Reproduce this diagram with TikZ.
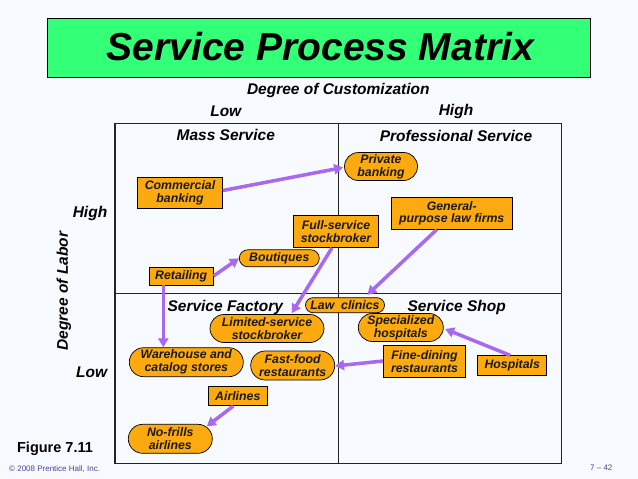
\documentclass[tikz,border=0pt]{standalone}
\usepackage{fontspec}
\setmainfont{Liberation Sans}
\usetikzlibrary{arrows.meta,shapes.misc}
\definecolor{bgc}{RGB}{247,250,254}
\definecolor{titlegreen}{RGB}{51,255,119}
\definecolor{boxorange}{RGB}{252,170,16}
\definecolor{arrowpurple}{RGB}{168,104,240}
\definecolor{framegray}{RGB}{35,35,35}
\definecolor{footblue}{RGB}{70,70,150}
\begin{document}
\begin{tikzpicture}[x=1pt,y=-1pt,
  box/.style={draw=black, line width=0.7pt, fill=boxorange, text=black!90,
    font=\fontsize{12.3}{12.8}\selectfont\bfseries\itshape, align=center, inner sep=0pt},
  rectbox/.style={box, rectangle},
  pill/.style={box, rounded rectangle},
  link/.style={draw=arrowpurple, line width=3.5pt, -{Triangle[length=9pt,width=10pt]}},
  heading/.style={font=\fontsize{15.5}{18}\selectfont\bfseries\itshape, anchor=base, inner sep=0pt, text=black},
  frameline/.style={draw=framegray, line width=1.4pt},
]
\useasboundingbox (0,0) rectangle (638,479);
\fill[bgc] (0,0) rectangle (638,479);

% title
\draw[fill=titlegreen, draw=black, line width=0.8pt] (47.3,18.3) rectangle (590.7,77.3);
\node[font=\fontsize{39}{42}\selectfont\bfseries\itshape, anchor=base, inner sep=0pt] (title) at (320.3,60) {Service Process Matrix};

% axis labels
\node[heading] (cust) at (338.3,94.5) {Degree of Customization};
\node[heading] (lowtop) at (225.8,116.5) {Low};
\node[heading] (hightop) at (456,115) {High};
\node[heading] (highleft) at (90,217) {High};
\node[heading] (lowleft) at (91.7,377.3) {Low};
\node[heading, rotate=90] (labor) at (67.8,291.3) {Degree of Labor};

% matrix frame
\draw[frameline] (115,123.3) rectangle (561.7,463.3);
\draw[frameline] (338.3,123.3) -- (338.3,463.3);
\draw[frameline] (115,293.3) -- (561.7,293.3);

% quadrant labels
\node[heading] (mass) at (225.8,140.5) {Mass Service};
\node[heading] (prof) at (456,141) {Professional Service};
\node[heading] (fact) at (225.3,311) {Service Factory};
\node[heading] (shop) at (456.7,311) {Service Shop};

% boxes
\node[rectbox, minimum width=85pt, minimum height=31pt] (cb) at (180,192.5) {Commercial\\banking};
\node[pill, minimum width=73pt, minimum height=28pt] (pb) at (381,166.5) {Private\\banking};
\node[rectbox, minimum width=121pt, minimum height=32pt] (gp) at (451.7,213.3) {General-\\purpose law firms};
\node[rectbox, minimum width=85pt, minimum height=32pt] (fs) at (336,231.5) {Full-service\\stockbroker};
\node[pill, minimum width=80pt, minimum height=17pt] (bo) at (279.3,258.3) {Boutiques};
\node[rectbox, minimum width=64pt, minimum height=18pt] (re) at (181.2,276) {Retailing};
\node[pill, minimum width=79pt, minimum height=15pt] (lc) at (345,305.2) {Law\ \ clinics};
\node[pill, minimum width=114pt, minimum height=28pt] (ls) at (267,328.5) {Limited-service\\stockbroker};
\node[pill, minimum width=85pt, minimum height=28pt] (sh) at (400.8,327.5) {Specialized\\hospitals};
\node[pill, minimum width=114pt, minimum height=29pt] (wh) at (186.3,362.2) {Warehouse and\\catalog stores};
\node[pill, minimum width=84pt, minimum height=29pt] (ff) at (292.7,365.5) {Fast-food\\restaurants};
\node[rectbox, minimum width=82pt, minimum height=32pt] (fd) at (424.5,361.5) {Fine-dining\\restaurants};
\node[rectbox, minimum width=69pt, minimum height=20pt] (ho) at (512.2,365.7) {Hospitals};
\node[rectbox, minimum width=59pt, minimum height=19pt] (ai) at (237.8,396.2) {Airlines};
\node[pill, minimum width=84pt, minimum height=29pt] (nf) at (170.3,438.8) {No-frills\\airlines};

% arrows
\draw[link] ([yshift=2pt]cb.east) -- ([xshift=-1pt,yshift=-1pt]pb.west);
\draw[link] (re.east) -- (bo.west);
\draw[link] ([xshift=-17.9pt]re.south) -- ([xshift=-17.9pt]re.south |- wh.north);
\draw[link] ([xshift=-4pt]fs.south) -- ([xshift=24.7pt,yshift=1pt]ls.north);
\draw[link] ([xshift=-15pt]gp.south) -- ([xshift=22.3pt,yshift=2.5pt]lc.north);
\draw[link] ([yshift=0.5pt]fd.west) -- ([yshift=-0.5pt]ff.east);
\draw[link] ([xshift=-2pt]ho.north) -- ([xshift=1.5pt,yshift=-1.5pt]sh.east);
\draw[link] ([xshift=-4.5pt]ai.south) -- ([xshift=36.4pt,yshift=-2.4pt]nf.north);

% footer
\node[font=\fontsize{14.5}{16}\selectfont\bfseries, anchor=base, inner sep=0pt] (fig) at (55,452.3) {Figure 7.11};
\node[font=\fontsize{8}{9}\selectfont, anchor=base west, inner sep=0pt, text=footblue] (copy) at (9,471) {© 2008 Prentice Hall, Inc.};
\node[font=\fontsize{8}{9}\selectfont, anchor=base, inner sep=0pt, text=footblue] (page) at (601.3,470.5) {7 – 42};
\end{tikzpicture}
\end{document}
